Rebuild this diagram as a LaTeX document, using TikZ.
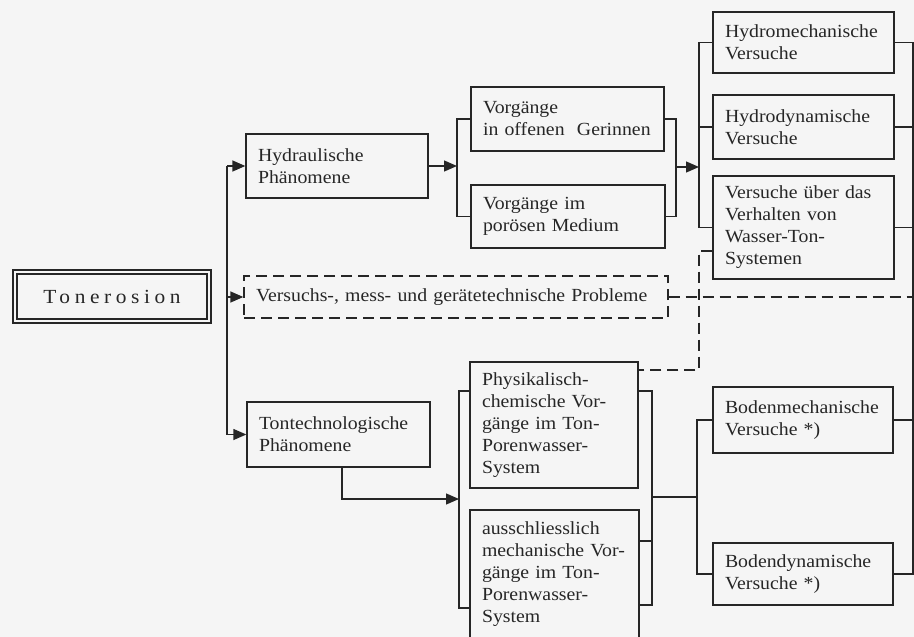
\documentclass[tikz,border=0pt]{standalone}
\usepackage{fontspec}
\setmainfont{Liberation Serif}[FakeStretch=1.07]
\usetikzlibrary{arrows.meta}
\usetikzlibrary{positioning}

\begin{document}
\begin{tikzpicture}[x=1pt, y=-1pt, line width=1.3pt, color=black!85,
    font=\fontsize{18.5}{22}\selectfont,
    box/.style 2 args={draw, rectangle, inner xsep=12pt, inner ysep=0pt,
        text width=#1, minimum height=#2, align=left},
    arr/.style={-{Triangle[length=13pt, width=11pt]}},
    dsh/.style={dash pattern=on 11pt off 6pt}]
    \fill[black!4] (0,0) rectangle (914,637);
    \useasboundingbox (0,0) rectangle (914,637);

    % boxes
    \draw (112, 296.5) node[draw, double=black!4, double distance=2.8pt, line width=1.2pt,
        minimum width=194pt, minimum height=49pt, inner sep=0pt,
        font=\fontsize{20}{22}\selectfont\addfontfeature{LetterSpace=23}] (ton) {Tonerosion};
    \draw (337, 166) node[box={158pt}{64pt}] (hyd) {Hydraulische\\Phänomene};
    \draw (456, 297) node[box={400pt}{42pt}, dsh] (mess) {Versuchs-, mess- und gerätetechnische Probleme};
    \draw (338.5, 434.5) node[box={159pt}{65pt}] (tech) {Tontechnologische\\Phänomene};

    \draw (567.5, 119) node[box={169pt}{64pt}] (offen) {Vorgänge\\in offenen~ Gerinnen};
    \draw (568, 216.5) node[box={170pt}{63pt}] (poros) {Vorgänge im\\porösen Medium};
    \draw (803.5, 42.5) node[box={157pt}{61pt}] (hmech) {Hydromechanische\\Versuche};
    \draw (803.5, 127) node[box={157pt}{64pt}] (hdyn) {Hydrodynamische\\Versuche};
    \draw (803.5, 227.5) node[box={157pt}{103pt}] (wasser) {Versuche über das\\Verhalten von\\Wasser-Ton-\\Systemen};

    \draw (554, 425) node[box={144pt}{126pt}] (phys) {Physikalisch-\\chemische Vor-\\gänge im Ton-\\Porenwasser-\\System};
    \draw (554.5, 574) node[box={145pt}{128pt}] (mech) {ausschliesslich\\mechanische~Vor-\\gänge im Ton-\\Porenwasser-\\System};
    \draw (803, 420) node[box={156pt}{66pt}] (bmech) {Bodenmechanische\\Versuche *)};
    \draw (803, 574) node[box={156pt}{62pt}] (bdyn) {Bodendynamische\\Versuche *)};

    % trunk
    \coordinate (trunk) at (227, 0);
    \draw (trunk |- hyd.west) -- (trunk |- tech.west);
    \foreach \target in {hyd, mess, tech}{
        \draw[arr] (trunk |- \target.west) -- (\target.west);
    }

    % hydraulic branch
    \coordinate (b1) at (457, 0);
    \coordinate (b2) at (676, 0);
    \coordinate (b3) at (699, 0);
    \coordinate (j2) at (676, 167);
    \draw[arr] (hyd.east) -- (b1 |- hyd.east);
    \draw (offen.west) -| (b1 |- poros.west) -- (poros.west);
    \draw (offen.east) -| (b2 |- poros.east) -- (poros.east);
    \draw[arr] (j2) -- (b3 |- j2);
    \draw (hmech.west) -| (b3 |- wasser.west) -- (wasser.west);
    \draw (hdyn.west) -- (b3 |- hdyn.west);

    % right edge
    \coordinate (edge) at (913, 0);
    \draw (hmech.east) -| (edge |- bdyn.east) -- (bdyn.east);
    \foreach \target in {hdyn, wasser, bmech}{
        \draw (\target.east) -- (edge |- \target.east);
    }

    % clay branch
    \coordinate (j4) at (459, 499);
    \coordinate (l1) at (459, 391);
    \coordinate (l2) at (459, 608);
    \coordinate (r1) at (652, 391);
    \coordinate (r2) at (652, 605);
    \coordinate (r3) at (652, 541);
    \coordinate (j5) at (652, 497);
    \coordinate (b5) at (697, 0);
    \draw[arr] ([xshift=3.5pt]tech.south) |- (j4);
    \draw (phys.west |- l1) -- (l1) -- (l2) -- (mech.west |- l2);
    \draw (phys.east |- r1) -- (r1) -- (r2) -- (mech.east |- r2);
    \draw (mech.east |- r3) -- (r3);
    \draw (j5) -- (b5 |- j5);
    \draw (bmech.west) -| (b5 |- bdyn.west) -- (bdyn.west);

    % dashed links
    \coordinate (d1) at (699, 251);
    \coordinate (d2) at (699, 370);
    \draw[dsh] (mess.east) -- (edge |- mess.east);
    \draw[dsh] (wasser.west |- d1) -- (d1) -- (d2) -- (phys.east |- d2);
\end{tikzpicture}
\end{document}
